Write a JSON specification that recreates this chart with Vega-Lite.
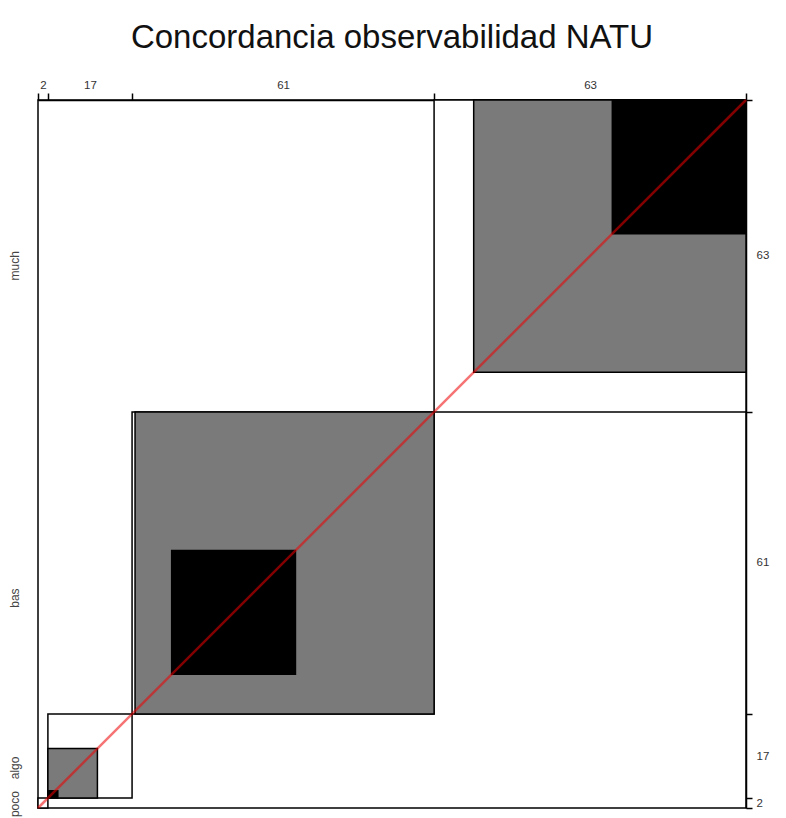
{
  "$schema": "https://vega.github.io/schema/vega-lite/v6.json",
  "autosize": "none",
  "width": 708,
  "height": 708,
  "padding": {"left": 38, "top": 100, "right": 40, "bottom": 10},
  "background": "white",
  "title": {
    "text": "Concordancia observabilidad NATU",
    "font": "Liberation Sans",
    "fontSize": 33,
    "fontWeight": "normal",
    "color": "#111111",
    "anchor": "middle",
    "frame": "group",
    "offset": 24
  },
  "config": {
    "view": {"stroke": "black", "strokeWidth": 1.5},
    "axis": {
      "labelFont": "Liberation Sans",
      "labelFontSize": 11.5,
      "labelColor": "#333333",
      "domainColor": "black",
      "domainWidth": 1.5,
      "tickColor": "black",
      "tickWidth": 1.5,
      "grid": false,
      "title": null,
      "labelOverlap": false,
      "labelBound": false,
      "labelFlush": false
    }
  },
  "datasets": {
    "cells": [
      {"category": "poco", "part": "outer", "x0": 0, "x1": 2, "y0": 0, "y1": 2},
      {"category": "algo", "part": "outer", "x0": 2, "x1": 19, "y0": 2, "y1": 19},
      {"category": "bas", "part": "outer", "x0": 19, "x1": 80, "y0": 19, "y1": 80},
      {"category": "much", "part": "outer", "x0": 80, "x1": 143, "y0": 80, "y1": 143},
      {"category": "algo", "part": "partial", "x0": 2, "x1": 12, "y0": 2, "y1": 12},
      {"category": "bas", "part": "partial", "x0": 19.6, "x1": 80, "y0": 19, "y1": 80},
      {"category": "much", "part": "partial", "x0": 88, "x1": 143, "y0": 88, "y1": 143},
      {"category": "algo", "part": "exact", "x0": 2, "x1": 4, "y0": 2, "y1": 3.5},
      {"category": "bas", "part": "exact", "x0": 27, "x1": 52, "y0": 27, "y1": 52},
      {"category": "much", "part": "exact", "x0": 116, "x1": 143, "y0": 116, "y1": 143}
    ],
    "diagonal": [
      {"x0": 0, "y0": 0},
      {"x0": 143, "y0": 143}
    ]
  },
  "layer": [
    {
      "data": {"name": "cells"},
      "mark": {"type": "rect", "stroke": "black", "strokeWidth": 1.5},
      "encoding": {
        "x": {
          "field": "x0", "type": "quantitative",
          "scale": {"domain": [0, 143], "nice": false, "zero": false},
          "axis": {
            "orient": "top",
            "values": [0, 1, 2, 10.5, 19, 49.5, 80, 111.5, 143],
            "labelExpr": "datum.value == 1 ? '2' : datum.value == 10.5 ? '17' : datum.value == 49.5 ? '61' : datum.value == 111.5 ? '63' : ''",
            "tickSize": 7,
            "labelPadding": 3,
            "labelAngle": 0,
            "tickOpacity": {"condition": {"test": "indexof([0, 2, 19, 80, 143], datum.value) >= 0", "value": 1}, "value": 0}
          }
        },
        "x2": {"field": "x1"},
        "y": {
          "field": "y0", "type": "quantitative",
          "scale": {"domain": [0, 143], "nice": false, "zero": false},
          "axis": {
            "orient": "left",
            "values": [0.9, 8.2, 42.5, 109.6],
            "labelExpr": "datum.value < 2 ? 'poco' : datum.value < 10 ? 'algo' : datum.value < 50 ? 'bas' : 'much'",
            "labelAngle": -90,
            "labelFontSize": 12,
            "labelColor": "#444444",
            "ticks": false,
            "domain": false,
            "labelPadding": 17
          }
        },
        "y2": {"field": "y1"},
        "fill": {
          "field": "part", "type": "nominal",
          "scale": {"domain": ["outer", "partial", "exact"], "range": ["#ffffff", "#7a7a7a", "#000000"]},
          "legend": null
        }
      }
    },
    {
      "data": {"name": "diagonal"},
      "mark": {"type": "line", "color": "#ee0000", "opacity": 0.55, "strokeWidth": 2.5},
      "encoding": {
        "x": {
          "field": "x0", "type": "quantitative",
          "scale": {"domain": [0, 143], "nice": false, "zero": false},
          "axis": {
            "orient": "top",
            "values": [0, 1, 2, 10.5, 19, 49.5, 80, 111.5, 143],
            "labelExpr": "datum.value == 1 ? '2' : datum.value == 10.5 ? '17' : datum.value == 49.5 ? '61' : datum.value == 111.5 ? '63' : ''",
            "tickSize": 7,
            "labelPadding": 3,
            "labelAngle": 0,
            "tickOpacity": {"condition": {"test": "indexof([0, 2, 19, 80, 143], datum.value) >= 0", "value": 1}, "value": 0}
          }
        },
        "y": {
          "field": "y0", "type": "quantitative",
          "scale": {"domain": [0, 143], "nice": false, "zero": false},
          "axis": {
            "orient": "right",
            "values": [0, 1, 2, 10.5, 19, 49.5, 80, 111.5, 143],
            "labelExpr": "datum.value == 1 ? '2' : datum.value == 10.5 ? '17' : datum.value == 49.5 ? '61' : datum.value == 111.5 ? '63' : ''",
            "tickSize": 6,
            "labelPadding": 4,
            "tickOpacity": {"condition": {"test": "indexof([0, 2, 19, 80, 143], datum.value) >= 0", "value": 1}, "value": 0}
          }
        }
      }
    }
  ],
  "resolve": {"axis": {"y": "independent"}}
}
